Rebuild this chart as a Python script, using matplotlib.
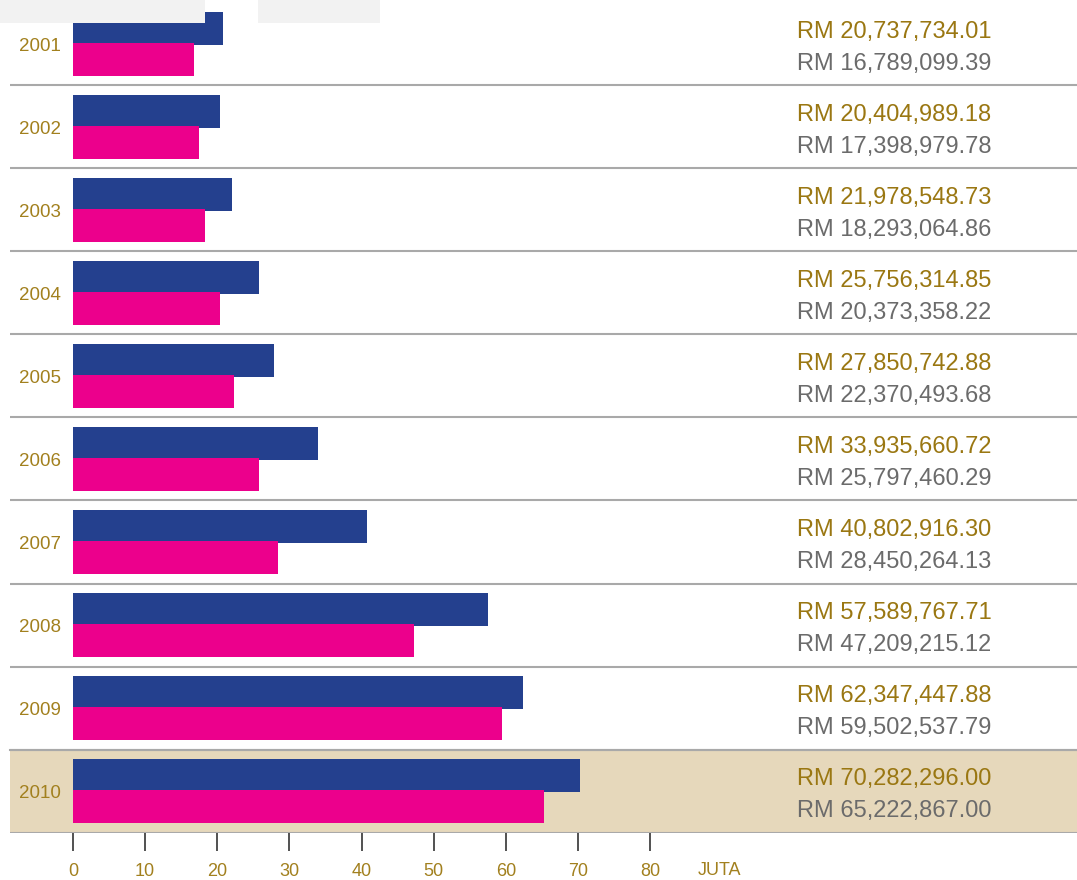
import matplotlib
matplotlib.use("Agg")
import matplotlib.pyplot as plt
from matplotlib.patches import Rectangle

years = ["2001", "2002", "2003", "2004", "2005", "2006", "2007", "2008", "2009", "2010"]
series_a = [20737734.01, 20404989.18, 21978548.73, 25756314.85, 27850742.88,
            33935660.72, 40802916.30, 57589767.71, 62347447.88, 70282296.00]
series_b = [16789099.39, 17398979.78, 18293064.86, 20373358.22, 22370493.68,
            25797460.29, 28450264.13, 47209215.12, 59502537.79, 65222867.00]
xticks = [0, 10, 20, 30, 40, 50, 60, 70, 80]
unit_label = "JUTA"

BLUE = "#24408e"
PINK = "#ec008c"
GOLD = "#a2801e"
GOLD_TXT = "#9a7712"
GRAY_TXT = "#6b6b6b"
LINE = "#a9a9a9"
TAN = "#e6d8bb"

plt.rcParams['font.family'] = ['Liberation Sans', 'DejaVu Sans']

W, H = 1077, 880
fig = plt.figure(figsize=(W / 100, H / 100), dpi=100)

px0 = 73.0
ppu = (578 - 73) / 70.0
xmin = -px0 / ppu
xmax = (W - px0) / ppu
top_px, bot_px = 2.5, 832.5
ax = fig.add_axes([0, (H - bot_px) / H, 1, (bot_px - top_px) / H])
ax.set_xlim(xmin, xmax)
ax.set_ylim(len(years) - 0.5, -0.5)

fig.patches.append(Rectangle((0, (H - 23) / H), 205 / W, 23 / H, transform=fig.transFigure,
                             facecolor="#f2f2f2", edgecolor="none", zorder=0))
fig.patches.append(Rectangle((258 / W, (H - 23) / H), 122 / W, 23 / H, transform=fig.transFigure,
                             facecolor="#f2f2f2", edgecolor="none", zorder=0))

xl = (10 - px0) / ppu
n = len(years)
ax.add_patch(Rectangle((xl, n - 1.5), xmax - xl, 1.0, facecolor=TAN, edgecolor="none", zorder=0))

a_m = [v / 1e6 for v in series_a]
b_m = [v / 1e6 for v in series_b]
ys = list(range(n))
bh = 0.4
ax.barh([y - 0.19 for y in ys], a_m, height=bh, color=BLUE, zorder=2)
ax.barh([y + 0.19 for y in ys], b_m, height=bh, color=PINK, zorder=2)

for i in range(n):
    ax.plot([xl, xmax], [i + 0.5, i + 0.5], color=LINE, lw=1.5, zorder=1, solid_capstyle='butt')
ax.plot([xl, xmax], [n - 1.5, n - 1.5], color=LINE, lw=1.5, zorder=1)

yr_x = (40 - px0) / ppu
val_x = (797 - px0) / ppu
for i, yr in enumerate(years):
    ax.text(yr_x, i + 0.03, yr, ha="center", va="center", fontsize=13.5, color=GOLD)
    ax.text(val_x, i - 0.14, "RM {:,.2f}".format(series_a[i]), ha="left", va="center",
            fontsize=17, color=GOLD_TXT)
    ax.text(val_x, i + 0.24, "RM {:,.2f}".format(series_b[i]), ha="left", va="center",
            fontsize=17, color=GRAY_TXT)

ax.set_xticks(xticks)
ax.set_xticklabels([str(t) for t in xticks])
ax.tick_params(axis="x", direction="out", length=13, width=1.1, color="#222222",
               labelsize=13, labelcolor=GOLD, pad=9)
ax.set_yticks([])
for s in ax.spines.values():
    s.set_visible(False)
ax.text(89.6, -(870 - 832.5) / (bot_px - top_px), unit_label,
        transform=ax.get_xaxis_transform(), ha="center", va="center",
        fontsize=13, color=GOLD)

fig.savefig("out.png", dpi=100, facecolor="white")
